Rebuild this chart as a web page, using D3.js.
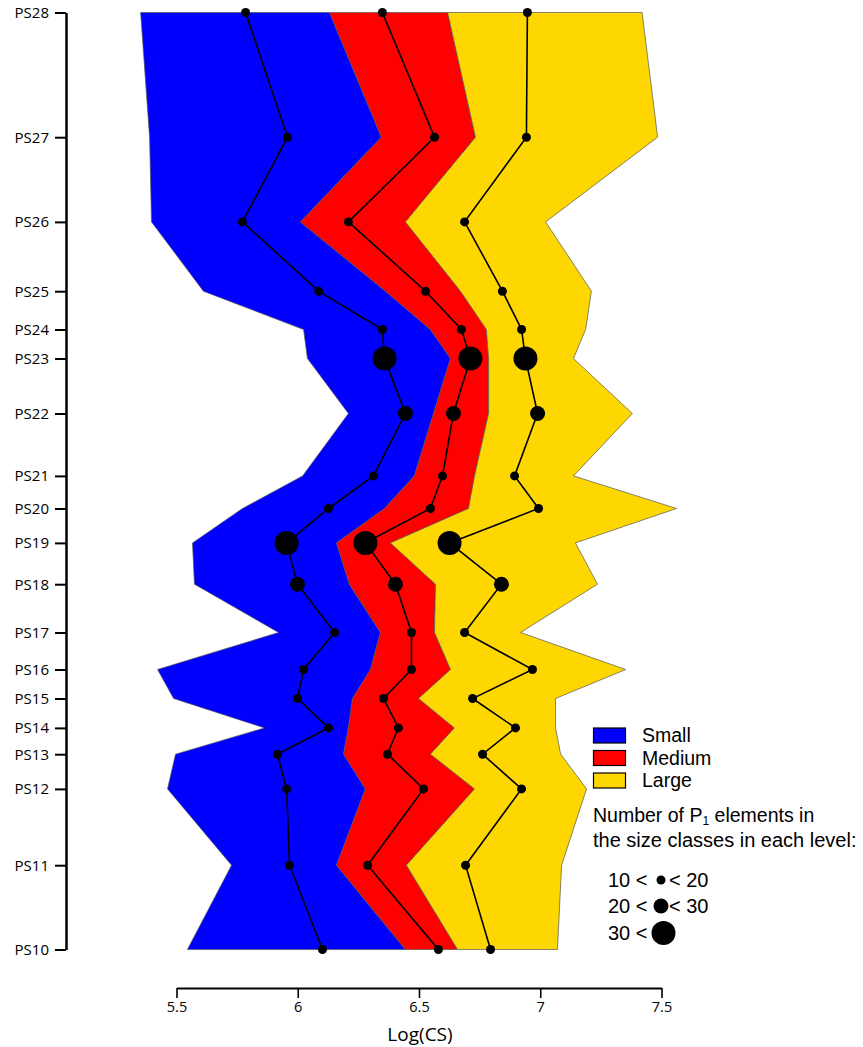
<!DOCTYPE html>
<html>
<head>
<meta charset="utf-8">
<script src="https://cdn.jsdelivr.net/npm/d3@7"></script>
<style>
html,body{margin:0;padding:0;background:#fff;}
svg{display:block;}
text{font-family:"Open Sans","Noto Sans",sans-serif;fill:#000;}
.leg text{font-family:"Liberation Sans",Arial,sans-serif;}
</style>
</head>
<body>
<svg id="chart" width="863" height="1047"></svg>
<script>
// Levels from bottom (PS10) to top (PS28)
const levels = ["PS10","PS11","PS12","PS13","PS14","PS15","PS16","PS17","PS18","PS19","PS20","PS21","PS22","PS23","PS24","PS25","PS26","PS27","PS28"];
// relative depth of each level (top = 0)
const depth = [937, 852.7, 776.4, 741.7, 715.4, 686, 657, 620, 571.7, 530.4, 496, 463.4, 401, 346, 317, 278.7, 209.4, 124.7, 0];

// Band limits, Log(CS)
const smallLow   = [5.545,5.727,5.463,5.496,5.863,5.488,5.422,5.921,5.574,5.566,5.772,6.020,6.209,6.040,6.024,5.611,5.397,5.389,5.352];
const smallHigh  = [6.444,6.160,6.279,6.189,6.209,6.226,6.300,6.341,6.213,6.160,6.358,6.481,6.560,6.630,6.547,6.362,6.011,6.345,6.131];
const mediumHigh = [6.659,6.448,6.729,6.547,6.646,6.498,6.630,6.564,6.568,6.382,6.704,6.729,6.787,6.787,6.778,6.671,6.444,6.733,6.618];
const largeHigh  = [7.071,7.088,7.191,7.084,7.063,7.063,7.352,6.919,7.236,7.145,7.562,7.137,7.380,7.137,7.187,7.211,7.022,7.484,7.420];

// Mean Log(CS) per size class
const smallMean  = [6.102,5.966,5.954,5.916,6.127,5.999,6.024,6.152,5.999,5.954,6.127,6.312,6.444,6.358,6.349,6.086,5.772,5.958,5.785];
const mediumMean = [6.580,6.288,6.519,6.370,6.415,6.354,6.469,6.469,6.403,6.279,6.547,6.597,6.642,6.712,6.675,6.527,6.209,6.564,6.349];
const largeMean  = [6.795,6.692,6.923,6.762,6.898,6.721,6.968,6.688,6.840,6.626,6.993,6.894,6.989,6.939,6.923,6.844,6.688,6.943,6.947];

// Count class of P1 elements (1: 10-20, 2: 20-30, 3: >30)
const smallCount  = [1,1,1,1,1,1,1,1,2,3,1,1,2,3,1,1,1,1,1];
const mediumCount = [1,1,1,1,1,1,1,1,2,3,1,1,2,3,1,1,1,1,1];
const largeCount  = [1,1,1,1,1,1,1,1,2,3,1,1,2,3,1,1,1,1,1];

const xTicks = [5.5, 6, 6.5, 7, 7.5];
const classNames = ["Small","Medium","Large"];
const classColors = ["#0000FF","#FF0000","#FFD700"];
const countLabels = [["10 <","< 20"],["20 <","< 30"],["30 <",""]];
const countRadius = {1:4.5, 2:7.5, 3:12};

const svg = d3.select("#chart");
const x = d3.scaleLinear().domain([5.5, 7.5]).range([176.5, 661.5]);
const y = d3.scaleLinear().domain([0, 937]).range([12.5, 949.5]);

const idx = d3.range(levels.length);

// Bands
const bands = [
  {lo: smallLow, hi: smallHigh, color: classColors[0]},
  {lo: smallHigh, hi: mediumHigh, color: classColors[1]},
  {lo: mediumHigh, hi: largeHigh, color: classColors[2]}
];
bands.forEach(b => {
  const area = d3.area()
    .y(i => y(depth[i]))
    .x0(i => x(b.lo[i]))
    .x1(i => x(b.hi[i]));
  svg.append("path").datum(idx).attr("d", area)
    .attr("fill", b.color).attr("stroke", "#555").attr("stroke-width", 0.7);
});

// Mean lines and dots
const means = [[smallMean, smallCount],[mediumMean, mediumCount],[largeMean, largeCount]];
means.forEach(([m, c]) => {
  const line = d3.line().x(i => x(m[i])).y(i => y(depth[i]));
  svg.append("path").datum(idx).attr("d", line)
    .attr("fill","none").attr("stroke","#000").attr("stroke-width",1.6);
  svg.append("g").selectAll("circle").data(idx).join("circle")
    .attr("cx", i => x(m[i])).attr("cy", i => y(depth[i]))
    .attr("r", i => countRadius[c[i]]).attr("fill","#000");
});

// Y axis
const yAxis = d3.axisLeft(y).tickValues(depth)
  .tickFormat(d => levels[depth.indexOf(d)]).tickSize(11).tickSizeOuter(0).tickPadding(6);
const gy = svg.append("g").attr("transform","translate(66,0)").call(yAxis);
gy.select(".domain").attr("stroke-width",2.5);
gy.selectAll(".tick line").attr("stroke-width",2);
gy.selectAll(".tick text").style("font-size","15px").style("font-family",'"Open Sans",sans-serif');

// X axis
const xAxis = d3.axisBottom(x).tickValues(xTicks).tickFormat(d3.format("")).tickSize(10).tickSizeOuter(0).tickPadding(4);
const gx = svg.append("g").attr("transform","translate(0,988)").call(xAxis);
gx.select(".domain").attr("stroke-width",2);
gx.selectAll(".tick line").attr("stroke-width",1.6);
gx.selectAll(".tick text").style("font-size","14.5px").style("font-family",'"Open Sans",sans-serif');

svg.append("text").attr("x",420).attr("y",1041).attr("text-anchor","middle")
  .style("font-size","19px").text("Log(CS)");

// Legend: colour classes
const leg = svg.append("g").attr("class","leg");
const rowY = [728, 750.5, 773];
classNames.forEach((n, k) => {
  leg.append("rect").attr("x",593.5).attr("y",rowY[k]).attr("width",32).attr("height",15)
    .attr("fill",classColors[k]).attr("stroke","#000").attr("stroke-width",1.2);
  leg.append("text").attr("x",642).attr("y",rowY[k]+14).style("font-size","19.5px").text(n);
});

// Legend: count classes
const t1 = leg.append("text").attr("x",593).attr("y",822).style("font-size","19.5px");
t1.append("tspan").text("Number of P");
t1.append("tspan").attr("dy",3).style("font-size","12px").text("1");
t1.append("tspan").attr("dy",-3).text(" elements in");
leg.append("text").attr("x",593).attr("y",847).style("font-size","20px").text("the size classes in each level:");

const sizeRowY = [887, 913, 940];
[1,2,3].forEach((c, k) => {
  leg.append("text").attr("x",608).attr("y",sizeRowY[k]).style("font-size","20px").text(countLabels[k][0]);
  leg.append("circle").attr("cx", k === 2 ? 663.5 : 661).attr("cy", sizeRowY[k]-7)
    .attr("r", countRadius[c]).attr("fill","#000");
  if (countLabels[k][1]) leg.append("text").attr("x",669).attr("y",sizeRowY[k]).style("font-size","20px").text(countLabels[k][1]);
});
</script>
</body>
</html>
